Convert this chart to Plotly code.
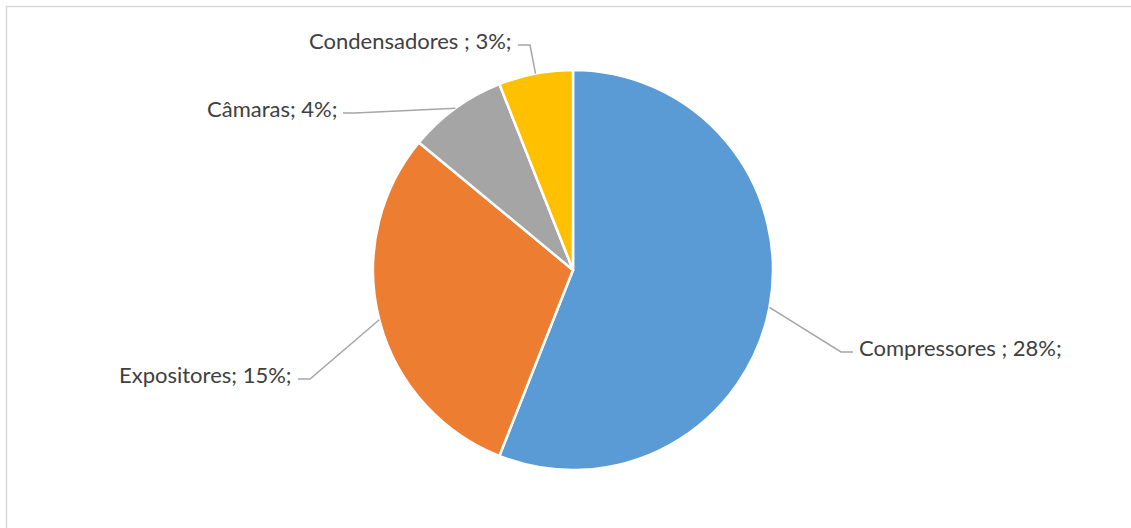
import math
import plotly.graph_objects as go

# ---- data ----
categories = ["Compressores ", "Expositores", "Câmaras", "Condensadores "]
values = [28, 15, 4, 3]
colors = ["#5B9BD5", "#ED7D31", "#A5A5A5", "#FFC000"]

# ---- layout constants (pixels) ----
W, H = 1131, 528
CX, CY, R = 573, 270, 200
# label placement: (text x, text y, anchor side)
label_pos = {
    "Compressores ": (857, 347, "left"),
    "Expositores": (294, 374, "right"),
    "Câmaras": (339, 108, "right"),
    "Condensadores ": (514, 40, "right"),
}
LINE_DY = 5
STUB = 12
GAP = 4

def px(x):
    return x / W

def py(y):
    return 1 - y / H

fig = go.Figure()
fig.add_trace(go.Pie(
    labels=categories,
    values=values,
    sort=False,
    direction="clockwise",
    rotation=0,
    marker=dict(colors=colors, line=dict(color="white", width=2.5)),
    textinfo="none",
    hoverinfo="label+value",
    showlegend=False,
    domain=dict(x=[px(CX - R), px(CX + R)], y=[py(CY + R), py(CY - R)]),
))

total = sum(values)
cum = 0
shapes = []
annotations = []
for name, v in zip(categories, values):
    mid = (cum + v / 2) / total * 2 * math.pi
    cum += v
    ex = CX + R * math.sin(mid)
    ey = CY - R * math.cos(mid)
    tx, ty, side = label_pos[name]
    ly = ty + LINE_DY
    if side == "right":
        sx0 = tx + GAP
        sx1 = sx0 + STUB
        xanchor = "right"
    else:
        sx0 = tx - GAP
        sx1 = sx0 - STUB
        xanchor = "left"
    path = f"M {px(sx0)},{py(ly)} L {px(sx1)},{py(ly)} L {px(ex)},{py(ey)}"
    shapes.append(dict(type="path", xref="paper", yref="paper", path=path,
                       line=dict(color="#A6A6A6", width=1.5)))
    annotations.append(dict(
        x=px(tx), y=py(ty), xref="paper", yref="paper",
        text=f"{name}; {v}%;", showarrow=False,
        xanchor=xanchor, yanchor="middle",
        font=dict(family="Lato", size=22, color="#404040"),
    ))

# chart border
shapes.append(dict(type="rect", xref="paper", yref="paper",
                   x0=px(6.5), x1=1.05, y0=-0.05, y1=py(6.5),
                   line=dict(color="#D9D9D9", width=1.5), fillcolor="rgba(0,0,0,0)"))

fig.update_layout(
    width=W, height=H,
    margin=dict(l=0, r=0, t=0, b=0),
    paper_bgcolor="white",
    plot_bgcolor="white",
    shapes=shapes,
    annotations=annotations,
)

fig.write_html("out.html")
